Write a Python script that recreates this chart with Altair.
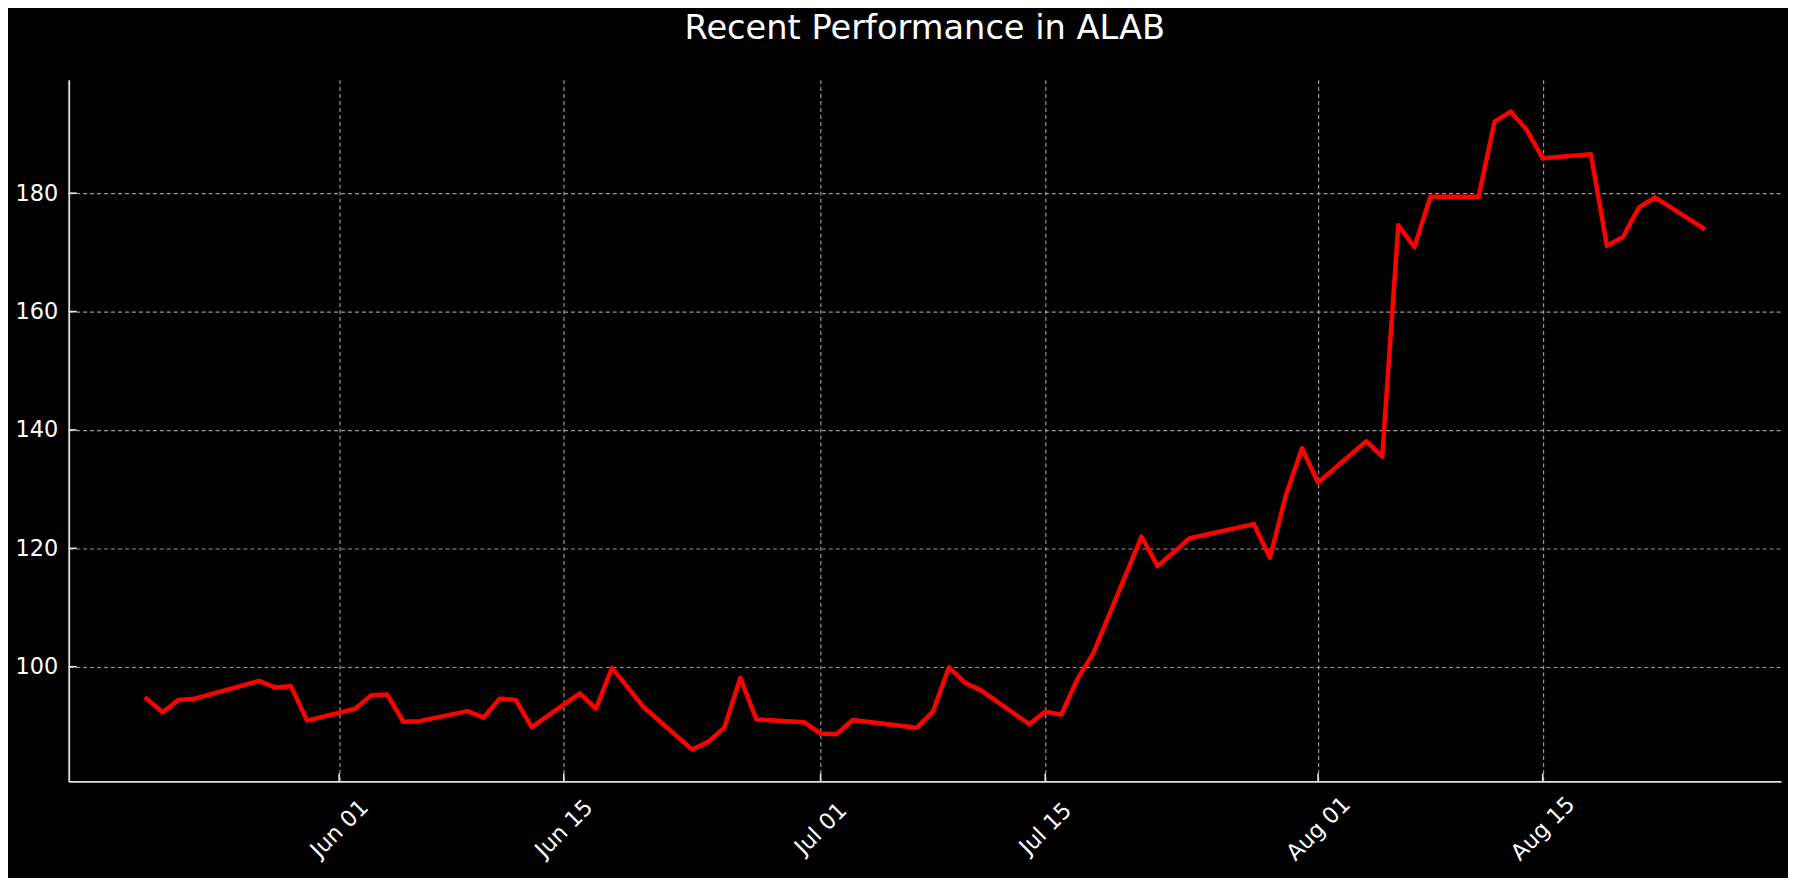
import altair as alt
import pandas as pd

# ---- data (2024) ----
dates = [
    "2024-05-20", "2024-05-21", "2024-05-22", "2024-05-23", "2024-05-27",
    "2024-05-28", "2024-05-29", "2024-05-30", "2024-06-02", "2024-06-03",
    "2024-06-04", "2024-06-05", "2024-06-06", "2024-06-09", "2024-06-10",
    "2024-06-11", "2024-06-12", "2024-06-13", "2024-06-16", "2024-06-17",
    "2024-06-18", "2024-06-20", "2024-06-23", "2024-06-24", "2024-06-25",
    "2024-06-26", "2024-06-27", "2024-06-30", "2024-07-01", "2024-07-02",
    "2024-07-03", "2024-07-07", "2024-07-08", "2024-07-09", "2024-07-10",
    "2024-07-11", "2024-07-14", "2024-07-15", "2024-07-16", "2024-07-17",
    "2024-07-18", "2024-07-21", "2024-07-22", "2024-07-24", "2024-07-28",
    "2024-07-29", "2024-07-30", "2024-07-31", "2024-08-01", "2024-08-04",
    "2024-08-05", "2024-08-06", "2024-08-07", "2024-08-08", "2024-08-11",
    "2024-08-12", "2024-08-13", "2024-08-14", "2024-08-15", "2024-08-18",
    "2024-08-19", "2024-08-20", "2024-08-21", "2024-08-22", "2024-08-25",
]
prices = [
    94.6, 92.3, 94.4, 94.6, 97.6,
    96.5, 96.7, 90.9, 92.9, 95.2,
    95.3, 90.7, 90.8, 92.5, 91.4,
    94.6, 94.4, 89.8, 95.5, 92.9,
    99.8, 93.1, 86.0, 87.3, 89.7,
    98.1, 91.1, 90.6, 88.7, 88.6,
    91.0, 89.7, 92.4, 99.9, 97.3,
    96.0, 90.3, 92.4, 91.9, 97.9,
    102.3, 122.0, 117.0, 121.7, 124.1,
    118.4, 129.0, 136.9, 131.1, 138.1,
    135.5, 174.6, 170.9, 179.4, 179.4,
    192.1, 193.8, 190.7, 185.9, 186.6,
    171.1, 172.6, 177.6, 179.3, 174.1,
]
x_tick_dates = ["2024-06-01", "2024-06-15", "2024-07-01", "2024-07-15", "2024-08-01", "2024-08-15"]
y_tick_values = [100, 120, 140, 160, 180]
title_text = "Recent Performance in ALAB"

df = pd.DataFrame({"Date": dates, "Close": prices})
xt = pd.DataFrame({"Date": x_tick_dates})
yt = pd.DataFrame({"v": y_tick_values})

W, H = 1720, 705
FONT = "DejaVu Sans"

# axis domains with 5% margins like matplotlib
d0 = pd.Timestamp(dates[0]); d1 = pd.Timestamp(dates[-1])
span = d1 - d0
lo = d0 - span * 0.05
hi = d1 + span * 0.05
def dt(t):
    return alt.DateTime(year=t.year, month=t.month, date=t.day, hours=t.hour,
                        minutes=t.minute, seconds=t.second, utc=True)
ymin, ymax = min(prices), max(prices)
yr = ymax - ymin
ydom = [ymin - 0.05 * yr, ymax + 0.05 * yr]

xscale = alt.Scale(type="utc", domain=[dt(lo), dt(hi)])
yscale = alt.Scale(domain=ydom, nice=False, zero=False)

xaxis = alt.Axis(
    values=[dt(pd.Timestamp(s)) for s in x_tick_dates],
    format="%b %d", labelAngle=-45, labelAlign="center", labelBaseline="middle",
    labelPadding=47, ticks=False, title=None, grid=True,
)
yaxis = alt.Axis(values=y_tick_values, ticks=False, labelPadding=11, title=None, grid=True)

line = alt.Chart(df).mark_line(
    color="#ff0000", strokeWidth=4.5, strokeJoin="round", strokeCap="square"
).encode(
    x=alt.X("Date:T", scale=xscale, axis=xaxis),
    y=alt.Y("Close:Q", scale=yscale, axis=yaxis),
)

xticks = alt.Chart(xt).mark_rule(color="#e8e8e8", strokeWidth=1.6).encode(
    x=alt.X("Date:T"), y=alt.value(H), y2=alt.value(H - 8)
)
yticks = alt.Chart(yt).mark_rule(color="#e8e8e8", strokeWidth=1.6).encode(
    y=alt.Y("v:Q"), x=alt.value(0), x2=alt.value(8)
)

chart = alt.layer(line, xticks, yticks).properties(
    width=W, height=H,
    title=alt.TitleParams(title_text, anchor="middle", offset=34,
                          frame="group", fontSize=33.8, font=FONT, fontWeight="normal",
                          color="#ffffff"),
    autosize=alt.AutoSizeParams(type="none"),
    padding={"left": 61, "top": 70, "right": 7, "bottom": 95},
    background="#000000",
).configure_view(
    stroke=None
).configure_axis(
    labelFont=FONT, labelFontSize=22.5, labelColor="#ffffff",
    domainColor="#e0e0e0", domainWidth=1.8,
    gridColor="#a8a8a8", gridDash=[4, 3], gridWidth=1.2, gridOpacity=0.9,
).configure_axisX(
    domain=True
).configure_axisY(
    domain=True
)

chart.save("out.html", embed_options={"renderer": "svg", "actions": False})
